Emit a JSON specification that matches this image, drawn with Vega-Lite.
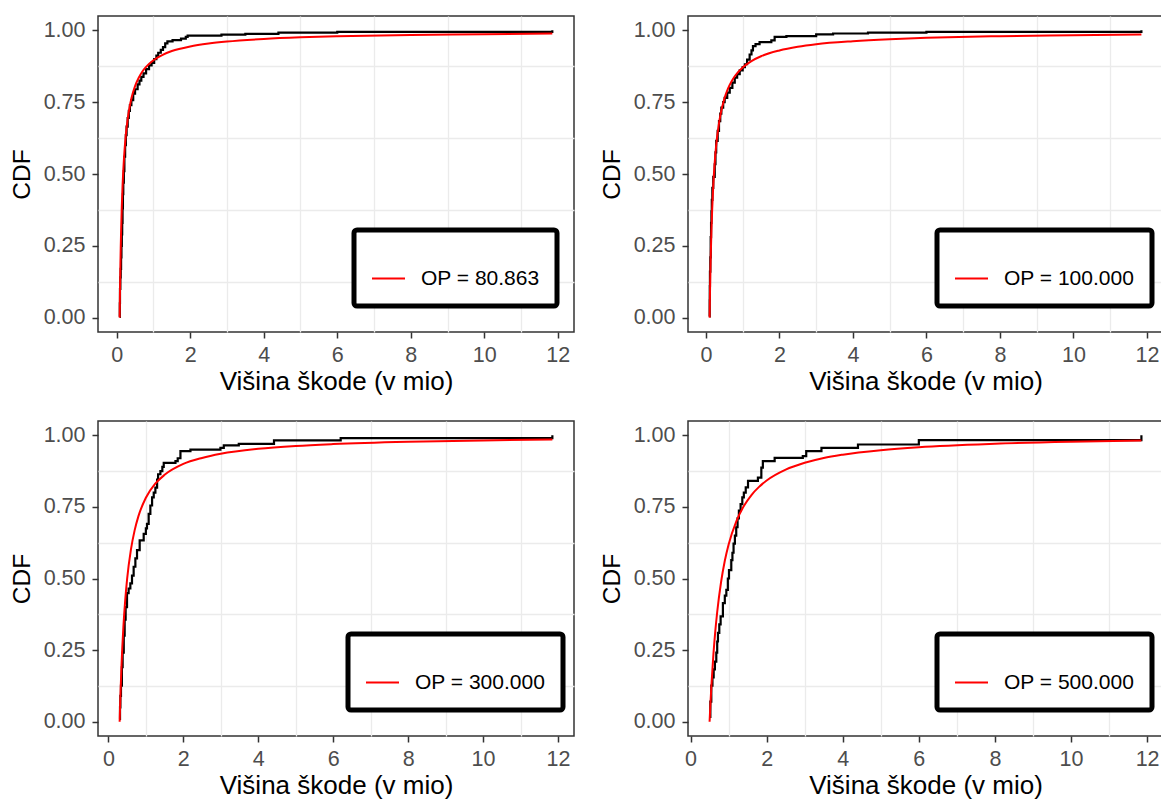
{
  "$schema": "https://vega.github.io/schema/vega-lite/v6.json",
  "background": "white",
  "padding": {"left": 8, "top": 15, "right": 0, "bottom": 0},
  "columns": 2,
  "spacing": {"row": 24, "column": 23},
  "config": {
    "font": "Liberation Sans",
    "view": {"stroke": "#333333", "strokeWidth": 1.5},
    "axis": {
      "domain": false, "grid": false,
      "tickColor": "#333333", "tickWidth": 1.5, "tickSize": 6,
      "labelColor": "#4D4D4D", "labelFont": "Liberation Sans", "labelFontSize": 21.5, "labelPadding": 7,
      "labelOverlap": false, "labelFlush": false,
      "titleColor": "#000000", "titleFont": "Liberation Sans", "titleFontWeight": "normal",
      "gridColor": "#EBEBEB", "gridWidth": 1.3
    },
    "axisX": {"titlePadding": 3, "titleFontSize": 26, "labelPadding": 6},
    "axisY": {"titlePadding": 9, "titleFontSize": 24.5},
    "legend": {
      "orient": "none",
      "labelFont": "Liberation Sans", "labelFontSize": 21, "labelColor": "#000000", "labelOffset": 15,
      "symbolType": "stroke", "symbolStrokeWidth": 2, "symbolSize": 1089,
      "padding": 17, "strokeColor": "#000000", "fillColor": "#FFFFFF", "cornerRadius": 3,
      "titleFontSize": 10, "titlePadding": 4
    }
  },
  "datasets": {
    "ecdf": [
      {"p": "a", "x": 0.0809, "F": 0.003}, {"p": "a", "x": 0.085, "F": 0.05}, {"p": "a", "x": 0.09, "F": 0.10}, {"p": "a", "x": 0.10, "F": 0.14},
      {"p": "a", "x": 0.11, "F": 0.17}, {"p": "a", "x": 0.12, "F": 0.21}, {"p": "a", "x": 0.13, "F": 0.25}, {"p": "a", "x": 0.14, "F": 0.29},
      {"p": "a", "x": 0.15, "F": 0.33}, {"p": "a", "x": 0.16, "F": 0.38}, {"p": "a", "x": 0.17, "F": 0.43}, {"p": "a", "x": 0.18, "F": 0.47},
      {"p": "a", "x": 0.195, "F": 0.51}, {"p": "a", "x": 0.21, "F": 0.56}, {"p": "a", "x": 0.23, "F": 0.60}, {"p": "a", "x": 0.25, "F": 0.635},
      {"p": "a", "x": 0.27, "F": 0.665}, {"p": "a", "x": 0.30, "F": 0.695}, {"p": "a", "x": 0.33, "F": 0.72}, {"p": "a", "x": 0.36, "F": 0.74},
      {"p": "a", "x": 0.40, "F": 0.757}, {"p": "a", "x": 0.45, "F": 0.78}, {"p": "a", "x": 0.50, "F": 0.795}, {"p": "a", "x": 0.57, "F": 0.812},
      {"p": "a", "x": 0.62, "F": 0.825}, {"p": "a", "x": 0.67, "F": 0.838}, {"p": "a", "x": 0.73, "F": 0.85}, {"p": "a", "x": 0.80, "F": 0.865},
      {"p": "a", "x": 0.88, "F": 0.878}, {"p": "a", "x": 0.95, "F": 0.887}, {"p": "a", "x": 1.02, "F": 0.90}, {"p": "a", "x": 1.08, "F": 0.912},
      {"p": "a", "x": 1.13, "F": 0.922}, {"p": "a", "x": 1.20, "F": 0.932}, {"p": "a", "x": 1.26, "F": 0.942}, {"p": "a", "x": 1.32, "F": 0.955},
      {"p": "a", "x": 1.38, "F": 0.962}, {"p": "a", "x": 1.52, "F": 0.966}, {"p": "a", "x": 1.75, "F": 0.971}, {"p": "a", "x": 1.88, "F": 0.977},
      {"p": "a", "x": 1.93, "F": 0.982}, {"p": "a", "x": 2.85, "F": 0.985}, {"p": "a", "x": 3.5, "F": 0.988}, {"p": "a", "x": 4.4, "F": 0.992},
      {"p": "a", "x": 6.0, "F": 0.995}, {"p": "a", "x": 11.85, "F": 1.0},

      {"p": "b", "x": 0.1, "F": 0.004}, {"p": "b", "x": 0.102, "F": 0.06}, {"p": "b", "x": 0.105, "F": 0.11}, {"p": "b", "x": 0.11, "F": 0.16},
      {"p": "b", "x": 0.12, "F": 0.21}, {"p": "b", "x": 0.13, "F": 0.28}, {"p": "b", "x": 0.14, "F": 0.33}, {"p": "b", "x": 0.15, "F": 0.37},
      {"p": "b", "x": 0.16, "F": 0.41}, {"p": "b", "x": 0.175, "F": 0.452}, {"p": "b", "x": 0.20, "F": 0.49}, {"p": "b", "x": 0.24, "F": 0.534},
      {"p": "b", "x": 0.26, "F": 0.575}, {"p": "b", "x": 0.28, "F": 0.615}, {"p": "b", "x": 0.32, "F": 0.65}, {"p": "b", "x": 0.356, "F": 0.684},
      {"p": "b", "x": 0.39, "F": 0.71}, {"p": "b", "x": 0.42, "F": 0.731}, {"p": "b", "x": 0.47, "F": 0.75}, {"p": "b", "x": 0.51, "F": 0.765},
      {"p": "b", "x": 0.58, "F": 0.783}, {"p": "b", "x": 0.648, "F": 0.80}, {"p": "b", "x": 0.72, "F": 0.818}, {"p": "b", "x": 0.785, "F": 0.835},
      {"p": "b", "x": 0.85, "F": 0.848}, {"p": "b", "x": 0.92, "F": 0.861}, {"p": "b", "x": 1.0, "F": 0.872}, {"p": "b", "x": 1.06, "F": 0.882},
      {"p": "b", "x": 1.12, "F": 0.898}, {"p": "b", "x": 1.19, "F": 0.916}, {"p": "b", "x": 1.24, "F": 0.93}, {"p": "b", "x": 1.28, "F": 0.945},
      {"p": "b", "x": 1.35, "F": 0.952}, {"p": "b", "x": 1.46, "F": 0.959}, {"p": "b", "x": 1.78, "F": 0.965}, {"p": "b", "x": 1.87, "F": 0.977},
      {"p": "b", "x": 2.19, "F": 0.98}, {"p": "b", "x": 3.0, "F": 0.986}, {"p": "b", "x": 3.46, "F": 0.989}, {"p": "b", "x": 4.41, "F": 0.992},
      {"p": "b", "x": 6.0, "F": 0.995}, {"p": "b", "x": 11.85, "F": 1.0},

      {"p": "c", "x": 0.30, "F": 0.01}, {"p": "c", "x": 0.31, "F": 0.05}, {"p": "c", "x": 0.32, "F": 0.09}, {"p": "c", "x": 0.336, "F": 0.126},
      {"p": "c", "x": 0.36, "F": 0.19}, {"p": "c", "x": 0.38, "F": 0.241}, {"p": "c", "x": 0.41, "F": 0.30}, {"p": "c", "x": 0.434, "F": 0.356},
      {"p": "c", "x": 0.46, "F": 0.40}, {"p": "c", "x": 0.497, "F": 0.449}, {"p": "c", "x": 0.54, "F": 0.465}, {"p": "c", "x": 0.586, "F": 0.483},
      {"p": "c", "x": 0.63, "F": 0.51}, {"p": "c", "x": 0.674, "F": 0.541}, {"p": "c", "x": 0.72, "F": 0.57}, {"p": "c", "x": 0.764, "F": 0.599},
      {"p": "c", "x": 0.835, "F": 0.633}, {"p": "c", "x": 0.942, "F": 0.656}, {"p": "c", "x": 1.0, "F": 0.675}, {"p": "c", "x": 1.03, "F": 0.691},
      {"p": "c", "x": 1.075, "F": 0.726}, {"p": "c", "x": 1.12, "F": 0.755}, {"p": "c", "x": 1.166, "F": 0.783}, {"p": "c", "x": 1.21, "F": 0.80},
      {"p": "c", "x": 1.254, "F": 0.817}, {"p": "c", "x": 1.30, "F": 0.845}, {"p": "c", "x": 1.326, "F": 0.864}, {"p": "c", "x": 1.388, "F": 0.875},
      {"p": "c", "x": 1.44, "F": 0.89}, {"p": "c", "x": 1.477, "F": 0.904}, {"p": "c", "x": 1.79, "F": 0.91}, {"p": "c", "x": 1.85, "F": 0.92},
      {"p": "c", "x": 1.923, "F": 0.945}, {"p": "c", "x": 2.19, "F": 0.95}, {"p": "c", "x": 2.99, "F": 0.956}, {"p": "c", "x": 3.08, "F": 0.965},
      {"p": "c", "x": 3.48, "F": 0.97}, {"p": "c", "x": 4.42, "F": 0.982}, {"p": "c", "x": 6.2, "F": 0.99}, {"p": "c", "x": 11.85, "F": 1.0},

      {"p": "d", "x": 0.50, "F": 0.017}, {"p": "d", "x": 0.52, "F": 0.07}, {"p": "d", "x": 0.545, "F": 0.126}, {"p": "d", "x": 0.575, "F": 0.155},
      {"p": "d", "x": 0.607, "F": 0.183}, {"p": "d", "x": 0.64, "F": 0.21}, {"p": "d", "x": 0.676, "F": 0.241}, {"p": "d", "x": 0.70, "F": 0.28},
      {"p": "d", "x": 0.72, "F": 0.31}, {"p": "d", "x": 0.755, "F": 0.34}, {"p": "d", "x": 0.79, "F": 0.368}, {"p": "d", "x": 0.85, "F": 0.414},
      {"p": "d", "x": 0.90, "F": 0.44}, {"p": "d", "x": 0.94, "F": 0.46}, {"p": "d", "x": 0.98, "F": 0.50}, {"p": "d", "x": 1.01, "F": 0.529},
      {"p": "d", "x": 1.07, "F": 0.564}, {"p": "d", "x": 1.10, "F": 0.59}, {"p": "d", "x": 1.13, "F": 0.622}, {"p": "d", "x": 1.165, "F": 0.65},
      {"p": "d", "x": 1.20, "F": 0.679}, {"p": "d", "x": 1.235, "F": 0.71}, {"p": "d", "x": 1.27, "F": 0.737}, {"p": "d", "x": 1.315, "F": 0.76},
      {"p": "d", "x": 1.36, "F": 0.783}, {"p": "d", "x": 1.40, "F": 0.80}, {"p": "d", "x": 1.45, "F": 0.818}, {"p": "d", "x": 1.51, "F": 0.841},
      {"p": "d", "x": 1.77, "F": 0.852}, {"p": "d", "x": 1.86, "F": 0.887}, {"p": "d", "x": 1.90, "F": 0.91}, {"p": "d", "x": 2.21, "F": 0.921},
      {"p": "d", "x": 2.95, "F": 0.927}, {"p": "d", "x": 3.04, "F": 0.945}, {"p": "d", "x": 3.44, "F": 0.956}, {"p": "d", "x": 4.4, "F": 0.968},
      {"p": "d", "x": 6.0, "F": 0.983}, {"p": "d", "x": 11.85, "F": 1.0}
    ],
    "fit": [
      {"p": "a", "label": "OP = 80.863", "x": 0.0809, "F": 0}, {"p": "a", "label": "OP = 80.863", "x": 0.09, "F": 0.09},
      {"p": "a", "label": "OP = 80.863", "x": 0.10, "F": 0.174}, {"p": "a", "label": "OP = 80.863", "x": 0.11, "F": 0.242},
      {"p": "a", "label": "OP = 80.863", "x": 0.12, "F": 0.299}, {"p": "a", "label": "OP = 80.863", "x": 0.14, "F": 0.389},
      {"p": "a", "label": "OP = 80.863", "x": 0.16, "F": 0.459}, {"p": "a", "label": "OP = 80.863", "x": 0.18, "F": 0.513},
      {"p": "a", "label": "OP = 80.863", "x": 0.20, "F": 0.557}, {"p": "a", "label": "OP = 80.863", "x": 0.25, "F": 0.638},
      {"p": "a", "label": "OP = 80.863", "x": 0.30, "F": 0.692}, {"p": "a", "label": "OP = 80.863", "x": 0.35, "F": 0.732},
      {"p": "a", "label": "OP = 80.863", "x": 0.40, "F": 0.763}, {"p": "a", "label": "OP = 80.863", "x": 0.50, "F": 0.806},
      {"p": "a", "label": "OP = 80.863", "x": 0.60, "F": 0.835}, {"p": "a", "label": "OP = 80.863", "x": 0.70, "F": 0.857},
      {"p": "a", "label": "OP = 80.863", "x": 0.80, "F": 0.873}, {"p": "a", "label": "OP = 80.863", "x": 1.0, "F": 0.896},
      {"p": "a", "label": "OP = 80.863", "x": 1.25, "F": 0.915}, {"p": "a", "label": "OP = 80.863", "x": 1.5, "F": 0.928},
      {"p": "a", "label": "OP = 80.863", "x": 2.0, "F": 0.944}, {"p": "a", "label": "OP = 80.863", "x": 2.5, "F": 0.954},
      {"p": "a", "label": "OP = 80.863", "x": 3.0, "F": 0.961}, {"p": "a", "label": "OP = 80.863", "x": 4.0, "F": 0.970},
      {"p": "a", "label": "OP = 80.863", "x": 5.0, "F": 0.9756}, {"p": "a", "label": "OP = 80.863", "x": 6.0, "F": 0.9793},
      {"p": "a", "label": "OP = 80.863", "x": 8.0, "F": 0.984}, {"p": "a", "label": "OP = 80.863", "x": 10.0, "F": 0.9869},
      {"p": "a", "label": "OP = 80.863", "x": 11.85, "F": 0.9888},

      {"p": "b", "label": "OP = 100.000", "x": 0.10, "F": 0}, {"p": "b", "label": "OP = 100.000", "x": 0.11, "F": 0.081},
      {"p": "b", "label": "OP = 100.000", "x": 0.12, "F": 0.150}, {"p": "b", "label": "OP = 100.000", "x": 0.13, "F": 0.208},
      {"p": "b", "label": "OP = 100.000", "x": 0.15, "F": 0.303}, {"p": "b", "label": "OP = 100.000", "x": 0.17, "F": 0.376},
      {"p": "b", "label": "OP = 100.000", "x": 0.20, "F": 0.460}, {"p": "b", "label": "OP = 100.000", "x": 0.25, "F": 0.558},
      {"p": "b", "label": "OP = 100.000", "x": 0.30, "F": 0.624}, {"p": "b", "label": "OP = 100.000", "x": 0.35, "F": 0.672},
      {"p": "b", "label": "OP = 100.000", "x": 0.40, "F": 0.709}, {"p": "b", "label": "OP = 100.000", "x": 0.50, "F": 0.761},
      {"p": "b", "label": "OP = 100.000", "x": 0.60, "F": 0.797}, {"p": "b", "label": "OP = 100.000", "x": 0.70, "F": 0.823},
      {"p": "b", "label": "OP = 100.000", "x": 0.80, "F": 0.843}, {"p": "b", "label": "OP = 100.000", "x": 1.0, "F": 0.871},
      {"p": "b", "label": "OP = 100.000", "x": 1.25, "F": 0.894}, {"p": "b", "label": "OP = 100.000", "x": 1.5, "F": 0.910},
      {"p": "b", "label": "OP = 100.000", "x": 2.0, "F": 0.930}, {"p": "b", "label": "OP = 100.000", "x": 2.5, "F": 0.943},
      {"p": "b", "label": "OP = 100.000", "x": 3.0, "F": 0.952}, {"p": "b", "label": "OP = 100.000", "x": 4.0, "F": 0.9625},
      {"p": "b", "label": "OP = 100.000", "x": 5.0, "F": 0.9693}, {"p": "b", "label": "OP = 100.000", "x": 6.0, "F": 0.9739},
      {"p": "b", "label": "OP = 100.000", "x": 8.0, "F": 0.9798}, {"p": "b", "label": "OP = 100.000", "x": 10.0, "F": 0.9834},
      {"p": "b", "label": "OP = 100.000", "x": 11.85, "F": 0.9857},

      {"p": "c", "label": "OP = 300.000", "x": 0.30, "F": 0}, {"p": "c", "label": "OP = 300.000", "x": 0.32, "F": 0.089},
      {"p": "c", "label": "OP = 300.000", "x": 0.35, "F": 0.197}, {"p": "c", "label": "OP = 300.000", "x": 0.40, "F": 0.330},
      {"p": "c", "label": "OP = 300.000", "x": 0.45, "F": 0.426}, {"p": "c", "label": "OP = 300.000", "x": 0.50, "F": 0.499},
      {"p": "c", "label": "OP = 300.000", "x": 0.60, "F": 0.600}, {"p": "c", "label": "OP = 300.000", "x": 0.70, "F": 0.668},
      {"p": "c", "label": "OP = 300.000", "x": 0.80, "F": 0.717}, {"p": "c", "label": "OP = 300.000", "x": 1.0, "F": 0.782},
      {"p": "c", "label": "OP = 300.000", "x": 1.25, "F": 0.831}, {"p": "c", "label": "OP = 300.000", "x": 1.5, "F": 0.862},
      {"p": "c", "label": "OP = 300.000", "x": 2.0, "F": 0.900}, {"p": "c", "label": "OP = 300.000", "x": 2.5, "F": 0.921},
      {"p": "c", "label": "OP = 300.000", "x": 3.0, "F": 0.9355}, {"p": "c", "label": "OP = 300.000", "x": 4.0, "F": 0.9527},
      {"p": "c", "label": "OP = 300.000", "x": 5.0, "F": 0.9628}, {"p": "c", "label": "OP = 300.000", "x": 6.0, "F": 0.9693},
      {"p": "c", "label": "OP = 300.000", "x": 8.0, "F": 0.9774}, {"p": "c", "label": "OP = 300.000", "x": 10.0, "F": 0.9822},
      {"p": "c", "label": "OP = 300.000", "x": 11.85, "F": 0.9851},

      {"p": "d", "label": "OP = 500.000", "x": 0.50, "F": 0}, {"p": "d", "label": "OP = 500.000", "x": 0.52, "F": 0.057},
      {"p": "d", "label": "OP = 500.000", "x": 0.55, "F": 0.131}, {"p": "d", "label": "OP = 500.000", "x": 0.60, "F": 0.234},
      {"p": "d", "label": "OP = 500.000", "x": 0.65, "F": 0.316}, {"p": "d", "label": "OP = 500.000", "x": 0.70, "F": 0.383},
      {"p": "d", "label": "OP = 500.000", "x": 0.80, "F": 0.486}, {"p": "d", "label": "OP = 500.000", "x": 0.90, "F": 0.562},
      {"p": "d", "label": "OP = 500.000", "x": 1.0, "F": 0.619}, {"p": "d", "label": "OP = 500.000", "x": 1.2, "F": 0.699},
      {"p": "d", "label": "OP = 500.000", "x": 1.4, "F": 0.753}, {"p": "d", "label": "OP = 500.000", "x": 1.6, "F": 0.7915},
      {"p": "d", "label": "OP = 500.000", "x": 1.8, "F": 0.820}, {"p": "d", "label": "OP = 500.000", "x": 2.0, "F": 0.842},
      {"p": "d", "label": "OP = 500.000", "x": 2.5, "F": 0.880}, {"p": "d", "label": "OP = 500.000", "x": 3.0, "F": 0.904},
      {"p": "d", "label": "OP = 500.000", "x": 3.5, "F": 0.921}, {"p": "d", "label": "OP = 500.000", "x": 4.0, "F": 0.9325},
      {"p": "d", "label": "OP = 500.000", "x": 5.0, "F": 0.948}, {"p": "d", "label": "OP = 500.000", "x": 6.0, "F": 0.9585},
      {"p": "d", "label": "OP = 500.000", "x": 8.0, "F": 0.9706}, {"p": "d", "label": "OP = 500.000", "x": 10.0, "F": 0.9775},
      {"p": "d", "label": "OP = 500.000", "x": 11.85, "F": 0.9816}
    ]
  },
  "resolve": {"scale": {"x": "independent", "y": "independent", "color": "independent"}, "legend": {"color": "independent"}},
  "concat": [
    {
      "width": 476, "height": 316,
      "resolve": {"axis": {"x": "independent", "y": "independent"}},
      "layer": [
        {"data": {"name": "ecdf"}, "transform": [{"filter": "datum.p === 'a'"}],
         "mark": {"type": "point", "opacity": 0},
         "encoding": {
           "x": {"field": "x", "type": "quantitative",
                 "scale": {"domain": [-0.508, 12.44], "nice": false, "zero": false},
                 "axis": {"orient": "top", "values": [1,3,5,7,9,11], "grid": true, "labels": false, "ticks": false, "domain": false, "title": null}},
           "y": {"field": "F", "type": "quantitative",
                 "scale": {"domain": [-0.05, 1.05], "nice": false, "zero": false},
                 "axis": {"orient": "right", "values": [0.125,0.375,0.625,0.875], "grid": true, "labels": false, "ticks": false, "domain": false, "title": null}}
         }},
        {"data": {"name": "ecdf"}, "transform": [{"filter": "datum.p === 'a'"}],
         "mark": {"type": "line", "interpolate": "step-after", "color": "#000000", "strokeWidth": 2.2},
         "encoding": {
           "x": {"field": "x", "type": "quantitative", "title": "Višina škode (v mio)",
                 "axis": {"orient": "bottom", "values": [0,2,4,6,8,10,12]}},
           "y": {"field": "F", "type": "quantitative", "title": "CDF",
                 "axis": {"orient": "left", "values": [0,0.25,0.5,0.75,1], "format": ".2f"}}
         }},
        {"data": {"name": "fit"}, "transform": [{"filter": "datum.p === 'a'"}],
         "mark": {"type": "line", "interpolate": "monotone", "strokeWidth": 2},
         "encoding": {
           "x": {"field": "x", "type": "quantitative", "axis": null},
           "y": {"field": "F", "type": "quantitative", "axis": null},
           "color": {"field": "label", "type": "nominal", "scale": {"range": ["#FF0000"]},
                     "legend": {"title": " ", "legendX": 256, "legendY": 214, "encode": {"legend": {"update": {"strokeWidth": {"value": 5}}}}}}
         }}
      ]
    },
    {
      "width": 475, "height": 316,
      "resolve": {"axis": {"x": "independent", "y": "independent"}},
      "layer": [
        {"data": {"name": "ecdf"}, "transform": [{"filter": "datum.p === 'b'"}],
         "mark": {"type": "point", "opacity": 0},
         "encoding": {
           "x": {"field": "x", "type": "quantitative",
                 "scale": {"domain": [-0.4875, 12.4375], "nice": false, "zero": false},
                 "axis": {"orient": "top", "values": [1,3,5,7,9,11], "grid": true, "labels": false, "ticks": false, "domain": false, "title": null}},
           "y": {"field": "F", "type": "quantitative",
                 "scale": {"domain": [-0.05, 1.05], "nice": false, "zero": false},
                 "axis": {"orient": "right", "values": [0.125,0.375,0.625,0.875], "grid": true, "labels": false, "ticks": false, "domain": false, "title": null}}
         }},
        {"data": {"name": "ecdf"}, "transform": [{"filter": "datum.p === 'b'"}],
         "mark": {"type": "line", "interpolate": "step-after", "color": "#000000", "strokeWidth": 2.2},
         "encoding": {
           "x": {"field": "x", "type": "quantitative", "title": "Višina škode (v mio)",
                 "axis": {"orient": "bottom", "values": [0,2,4,6,8,10,12]}},
           "y": {"field": "F", "type": "quantitative", "title": "CDF",
                 "axis": {"orient": "left", "values": [0,0.25,0.5,0.75,1], "format": ".2f"}}
         }},
        {"data": {"name": "fit"}, "transform": [{"filter": "datum.p === 'b'"}],
         "mark": {"type": "line", "interpolate": "monotone", "strokeWidth": 2},
         "encoding": {
           "x": {"field": "x", "type": "quantitative", "axis": null},
           "y": {"field": "F", "type": "quantitative", "axis": null},
           "color": {"field": "label", "type": "nominal", "scale": {"range": ["#FF0000"]},
                     "legend": {"title": " ", "legendX": 249, "legendY": 214, "encode": {"legend": {"update": {"strokeWidth": {"value": 5}}}}}}
         }}
      ]
    },
    {
      "width": 476, "height": 315,
      "resolve": {"axis": {"x": "independent", "y": "independent"}},
      "layer": [
        {"data": {"name": "ecdf"}, "transform": [{"filter": "datum.p === 'c'"}],
         "mark": {"type": "point", "opacity": 0},
         "encoding": {
           "x": {"field": "x", "type": "quantitative",
                 "scale": {"domain": [-0.2775, 12.4275], "nice": false, "zero": false},
                 "axis": {"orient": "top", "values": [1,3,5,7,9,11], "grid": true, "labels": false, "ticks": false, "domain": false, "title": null}},
           "y": {"field": "F", "type": "quantitative",
                 "scale": {"domain": [-0.05, 1.05], "nice": false, "zero": false},
                 "axis": {"orient": "right", "values": [0.125,0.375,0.625,0.875], "grid": true, "labels": false, "ticks": false, "domain": false, "title": null}}
         }},
        {"data": {"name": "ecdf"}, "transform": [{"filter": "datum.p === 'c'"}],
         "mark": {"type": "line", "interpolate": "step-after", "color": "#000000", "strokeWidth": 2.2},
         "encoding": {
           "x": {"field": "x", "type": "quantitative", "title": "Višina škode (v mio)",
                 "axis": {"orient": "bottom", "values": [0,2,4,6,8,10,12]}},
           "y": {"field": "F", "type": "quantitative", "title": "CDF",
                 "axis": {"orient": "left", "values": [0,0.25,0.5,0.75,1], "format": ".2f"}}
         }},
        {"data": {"name": "fit"}, "transform": [{"filter": "datum.p === 'c'"}],
         "mark": {"type": "line", "interpolate": "monotone", "strokeWidth": 2},
         "encoding": {
           "x": {"field": "x", "type": "quantitative", "axis": null},
           "y": {"field": "F", "type": "quantitative", "axis": null},
           "color": {"field": "label", "type": "nominal", "scale": {"range": ["#FF0000"]},
                     "legend": {"title": " ", "legendX": 250, "legendY": 213, "encode": {"legend": {"update": {"strokeWidth": {"value": 5}}}}}}
         }}
      ]
    },
    {
      "width": 475, "height": 315,
      "resolve": {"axis": {"x": "independent", "y": "independent"}},
      "layer": [
        {"data": {"name": "ecdf"}, "transform": [{"filter": "datum.p === 'd'"}],
         "mark": {"type": "point", "opacity": 0},
         "encoding": {
           "x": {"field": "x", "type": "quantitative",
                 "scale": {"domain": [-0.0675, 12.4175], "nice": false, "zero": false},
                 "axis": {"orient": "top", "values": [1,3,5,7,9,11], "grid": true, "labels": false, "ticks": false, "domain": false, "title": null}},
           "y": {"field": "F", "type": "quantitative",
                 "scale": {"domain": [-0.05, 1.05], "nice": false, "zero": false},
                 "axis": {"orient": "right", "values": [0.125,0.375,0.625,0.875], "grid": true, "labels": false, "ticks": false, "domain": false, "title": null}}
         }},
        {"data": {"name": "ecdf"}, "transform": [{"filter": "datum.p === 'd'"}],
         "mark": {"type": "line", "interpolate": "step-after", "color": "#000000", "strokeWidth": 2.2},
         "encoding": {
           "x": {"field": "x", "type": "quantitative", "title": "Višina škode (v mio)",
                 "axis": {"orient": "bottom", "values": [0,2,4,6,8,10,12]}},
           "y": {"field": "F", "type": "quantitative", "title": "CDF",
                 "axis": {"orient": "left", "values": [0,0.25,0.5,0.75,1], "format": ".2f"}}
         }},
        {"data": {"name": "fit"}, "transform": [{"filter": "datum.p === 'd'"}],
         "mark": {"type": "line", "interpolate": "monotone", "strokeWidth": 2},
         "encoding": {
           "x": {"field": "x", "type": "quantitative", "axis": null},
           "y": {"field": "F", "type": "quantitative", "axis": null},
           "color": {"field": "label", "type": "nominal", "scale": {"range": ["#FF0000"]},
                     "legend": {"title": " ", "legendX": 249, "legendY": 213, "encode": {"legend": {"update": {"strokeWidth": {"value": 5}}}}}}
         }}
      ]
    }
  ]
}
